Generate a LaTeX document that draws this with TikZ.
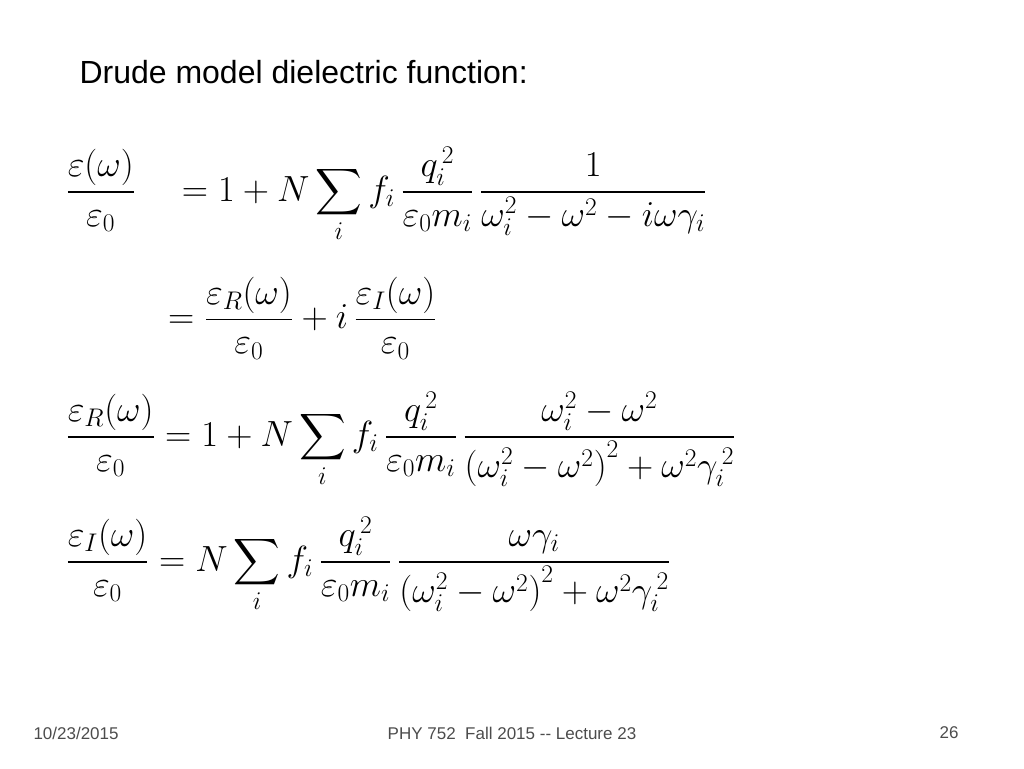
\documentclass[tikz,border=0pt]{standalone}
\usepackage{fix-cm}
\usepackage{amsmath}
\usepackage{graphicx}
\usepackage{fontspec}
\setmainfont{Liberation Sans}
\begin{document}
\begin{tikzpicture}[x=1pt,y=-1pt,
  eq/.style={anchor=west,inner sep=0pt,font=\fontsize{28}{34}\selectfont},
  foot/.style={font=\fontsize{17}{20}\selectfont\color{black!70}}]
\useasboundingbox (0,0) rectangle (1024,768);
\node[anchor=west,font=\fontsize{32}{38}\selectfont] (title) at (76,72) {Drude model dielectric function:};
\node[eq] (e1) at (66,195) {\scalebox{1.3}{$\displaystyle \frac{\varepsilon(\omega)}{\varepsilon_0}\quad = 1+N\sum_i f_i\,\frac{q_i^{\,2}}{\varepsilon_0 m_i}\,\frac{1}{\omega_i^2-\omega^2-i\omega\gamma_i}$}};
\node[eq] (e2) at (168,318) {\scalebox{1.3}{$\displaystyle =\frac{\varepsilon_R(\omega)}{\varepsilon_0}+i\,\frac{\varepsilon_I(\omega)}{\varepsilon_0}$}};
\node[eq] (e3) at (66,440) {\scalebox{1.3}{$\displaystyle \frac{\varepsilon_R(\omega)}{\varepsilon_0}=1+N\sum_i f_i\,\frac{q_i^{\,2}}{\varepsilon_0 m_i}\,\frac{\omega_i^2-\omega^2}{\left(\omega_i^2-\omega^2\right)^2+\omega^2\gamma_i^{\,2}}$}};
\node[eq] (e4) at (66,565) {\scalebox{1.3}{$\displaystyle \frac{\varepsilon_I(\omega)}{\varepsilon_0}=N\sum_i f_i\,\frac{q_i^{\,2}}{\varepsilon_0 m_i}\,\frac{\omega\gamma_i}{\left(\omega_i^2-\omega^2\right)^2+\omega^2\gamma_i^{\,2}}$}};
\node[foot,anchor=west] (d) at (30,733) {10/23/2015};
\node[foot] (c) at (512,733) {PHY 752\ \ Fall 2015 -{}- Lecture 23};
\node[foot,anchor=east] (p) at (962,733) {26};
\end{tikzpicture}
\end{document}
